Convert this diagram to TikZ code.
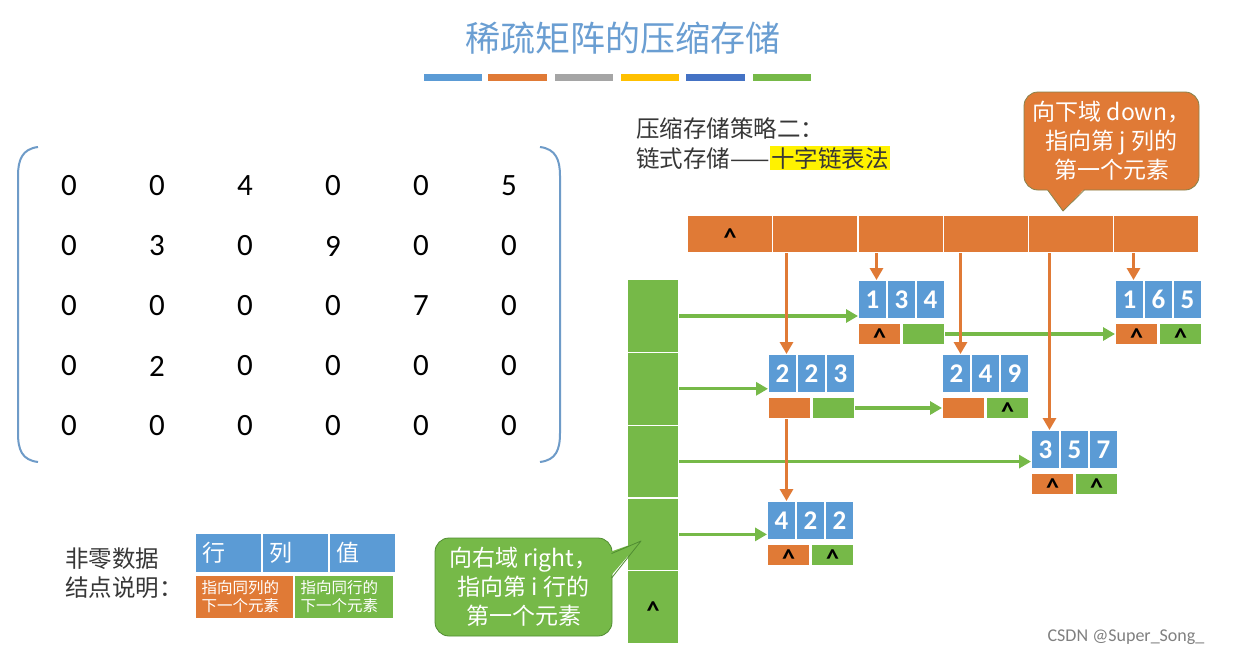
\documentclass[tikz,border=0pt]{standalone}
\usepackage{fontspec}
\setmainfont{Carlito}
\newfontfamily\cjk{Noto Sans CJK SC}
\usetikzlibrary{arrows.meta}
\definecolor{cblue}{RGB}{91,155,213}
\definecolor{corange}{RGB}{224,122,54}
\definecolor{cgreen}{RGB}{118,185,72}
\definecolor{ctitle}{RGB}{106,158,210}
\definecolor{cgray}{RGB}{165,165,165}
\definecolor{cyellow}{RGB}{255,192,0}
\definecolor{cdblue}{RGB}{68,114,196}
\definecolor{ctext}{RGB}{55,55,55}
\definecolor{cbrack}{RGB}{110,155,200}
\definecolor{cobord}{RGB}{135,130,75}
\definecolor{cgbord}{RGB}{80,140,50}
\newcommand\nilmark{\raisebox{-12pt}[0pt][0pt]{\fontsize{26}{26}\selectfont\bfseries\textasciicircum}}
\tikzset{
  bcell/.style={fill=cblue, draw=white, line width=1pt, minimum width=28pt, minimum height=38pt, inner sep=0pt, text=white, font=\fontsize{27}{27}\selectfont\bfseries},
  ocell/.style={fill=corange, draw=white, line width=1pt, minimum width=42pt, minimum height=21pt, inner sep=0pt, text=black},
  gcell/.style={fill=cgreen, draw=white, line width=1pt, minimum width=42pt, minimum height=21pt, inner sep=0pt, text=black},
  chead/.style={fill=corange, draw=white, line width=1.2pt, minimum width=85.17pt, minimum height=37pt, inner sep=0pt, text=black},
  rhead/.style={fill=cgreen, draw=white, line width=1.2pt, minimum width=51pt, minimum height=72.8pt, inner sep=0pt, text=black},
  mnum/.style={font=\fontsize{31}{31}\selectfont, text=black, inner sep=0pt},
  oarrow/.style={draw=corange, line width=3.2pt, -{Triangle[length=12pt,width=13pt]}},
  garrow/.style={draw=cgreen, line width=3.2pt, -{Triangle[length=12pt,width=13pt]}},
  calltext/.style={font=\cjk\fontsize{23}{29}\selectfont, text=white, align=center, inner sep=0pt, line width=0.8pt, rounded corners=14pt},
  bodytext/.style={font=\cjk\fontsize{23.5}{29}\selectfont, text=ctext, inner sep=0pt, anchor=west},
  legtop/.style={fill=cblue, draw=white, line width=1pt, minimum height=39pt, text width=52pt, inner xsep=7pt, inner ysep=0pt, align=left, text=white, font=\cjk\fontsize{23}{23}\selectfont},
  legbot/.style={draw=white, line width=1pt, minimum height=43pt, text width=86pt, inner xsep=6pt, inner ysep=0pt, align=left, text=white, font=\cjk\fontsize{15.5}{18}\selectfont}
}
\newcommand\enode[8]{%
  \node[bcell,anchor=north west] (#1a) at (#2,#3) {#4};
  \node[bcell,anchor=north west] (#1b) at (#1a.north east) {#5};
  \node[bcell,anchor=north west] (#1c) at (#1b.north east) {#6};
  \node[ocell,anchor=north west] (#1d) at ([yshift=-4pt]#1a.south west) {#7};
  \node[gcell,anchor=north east] (#1r) at ([yshift=-4pt]#1c.south east) {#8};
}
\begin{document}
\begin{tikzpicture}[x=1pt,y=-1pt]
\fill[white] (0,0) rectangle (1237,656);
\path[use as bounding box] (0,0) rectangle (1237,656);

% title
\node[font=\cjk\fontsize{35}{35}\selectfont, text=ctitle, inner sep=0pt] (title) at (623,38) {稀疏矩阵的压缩存储};
\fill[cblue]   (424,74) rectangle (482,81);
\fill[corange] (488,74) rectangle (547,81);
\fill[cgray]   (555,74) rectangle (613,81);
\fill[cyellow] (621,74) rectangle (679,81);
\fill[cdblue]  (686,74) rectangle (745,81);
\fill[cgreen]  (753,74) rectangle (811,81);

% matrix
\draw[cbrack, line width=2pt] (38,147) .. controls (22,149) and (18,160) .. (18,176) -- (18,433) .. controls (18,450) and (22,460) .. (38,462);
\draw[cbrack, line width=2pt] (540,147) .. controls (556,149) and (560,160) .. (560,176) -- (560,433) .. controls (560,450) and (556,460) .. (540,462);
\foreach \rowvals [count=\i] in {{0,0,4,0,0,5},{0,3,0,9,0,0},{0,0,0,0,7,0},{0,2,0,0,0,0},{0,0,0,0,0,0}}{
  \foreach \v [count=\j] in \rowvals {
    \node[mnum] (m\i\j) at ({69+88*(\j-1)},{186+60*(\i-1)}) {\v};
  }
}

% strategy text
\node[bodytext] (s1) at (636,129) {压缩存储策略二：};
\node[bodytext] (s2) at (636,158) {链式存储——{\setlength\fboxsep{1.5pt}\colorbox{yellow}{十字链表法}}};

% column heads
\foreach \k in {1,...,6} {
  \node[chead,anchor=north west] (c\k) at ({687+85.17*(\k-1)},215) {};
}
\node (c1nil) at (c1) {\nilmark};

% row heads
\foreach \k in {1,...,5} {
  \node[rhead,anchor=north west] (r\k) at (627,{279+72.8*(\k-1)}) {};
}
\node (r5nil) at (r5) {\nilmark};

% element nodes
\enode{n134}{858}{280}{1}{3}{4}{\nilmark}{}
\enode{n165}{1115}{280}{1}{6}{5}{\nilmark}{\nilmark}
\enode{n223}{768}{354}{2}{2}{3}{}{}
\enode{n249}{942}{354}{2}{4}{9}{}{\nilmark}
\enode{n357}{1031}{430}{3}{5}{7}{\nilmark}{\nilmark}
\enode{n422}{767}{501}{4}{2}{2}{\nilmark}{\nilmark}

% green (right) arrows
\draw[garrow] (r1.east) -- (r1.east -| n134a.west);
\draw[garrow] (r2.east) -- (r2.east -| n223a.west);
\draw[garrow] (r3.east) -- (r3.east -| n357a.west);
\draw[garrow] (r4.east) -- (r4.east -| n422a.west);
\draw[garrow] (n134r.east) -- (n165d.west);
\draw[garrow] (n223r.east) -- (n249d.west);

% orange (down) arrows
\draw[oarrow] ([xshift=4pt]n223a.north |- c2.south) -- ([xshift=4pt]n223a.north);
\draw[oarrow] ([xshift=4pt]n134a.north |- c3.south) -- ([xshift=4pt]n134a.north);
\draw[oarrow] ([xshift=4pt]n249a.north |- c4.south) -- ([xshift=4pt]n249a.north);
\draw[oarrow] ([xshift=4pt]n357a.north |- c5.south) -- ([xshift=4pt]n357a.north);
\draw[oarrow] ([xshift=4pt]n165a.north |- c6.south) -- ([xshift=4pt]n165a.north);
\draw[oarrow] ([xshift=4pt]n223a.north |- n223d.south) -- ([xshift=4pt]n223a.north |- n422a.north);

% orange callout
\node[calltext, fill=corange, draw=cobord, minimum width=175pt, minimum height=98pt] (cd) at (1111.5,141) {向下域 down，\\指向第 j 列的\\第一个元素};
\coordinate (cdtip) at (1063,211);
\fill[corange] (1045,186) -- (cdtip) -- (1087,186) -- cycle;
\draw[cobord, line width=0.8pt, line join=round] (1047.6,190) -- (cdtip) -- (1084.4,190);

% green callout
\node[calltext, fill=cgreen, draw=cgbord, minimum width=177pt, minimum height=98pt] (cr) at (523.5,587) {向右域 right，\\指向第 i 行的\\第一个元素};
\coordinate (crtip) at (641,541);
\fill[cgreen] (607,553) -- (crtip) -- (608,579) -- cycle;
\draw[cgbord, line width=0.8pt, line join=round] (611.6,553.5) -- (crtip) -- (611.6,578);

% legend
\node[bodytext, font=\cjk\fontsize{23.5}{29}\selectfont, align=left, anchor=north west] (leg) at (65,548) {非零数据\\结点说明：};
\node[legtop, anchor=north west] (l1) at (195,533) {行};
\node[legtop, anchor=north west] (l2) at (l1.north east) {列};
\node[legtop, anchor=north west] (l3) at (l2.north east) {值};
\node[legbot, fill=corange, anchor=north west] (l4) at (195,575) {指向同列的\\下一个元素};
\node[legbot, fill=cgreen, anchor=north west, text width=87pt] (l5) at (l4.north east) {指向同行的\\下一个元素};

% watermark
\node[font=\fontsize{18}{18}\selectfont, text=gray, inner sep=0pt] (wm) at (1126,637) {CSDN @Super\_Song\_};
\end{tikzpicture}
\end{document}
